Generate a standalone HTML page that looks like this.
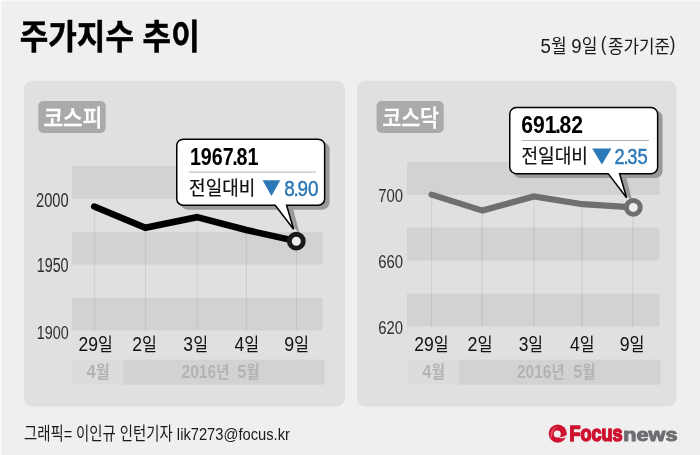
<!DOCTYPE html>
<html lang="ko">
<head>
<meta charset="utf-8">
<title>주가지수 추이</title>
<style>
html,body{margin:0;padding:0;background:#efefef;}
body{width:700px;height:455px;overflow:hidden;position:relative;}
svg{position:absolute;left:0;top:0;display:block;}
</style>
</head>
<body>
<svg width="700" height="455" viewBox="0 0 700 455">
  <rect x="0" y="0" width="700" height="455" fill="#efefef"/>
  <rect x="0" y="0" width="1.5" height="455" fill="#fafafa"/>
  <rect x="0" y="0" width="700" height="1" fill="#f8f8f8"/>

  <!-- LEFT PANEL -->
  <rect x="24" y="80.7" width="321.1" height="325.8" rx="8.5" ry="8.5" fill="#e0e0e0"/>
  <rect x="38.3" y="101.1" width="67.4" height="31.8" rx="5" ry="5" fill="#aaaaaa"/>
  <rect x="71.8" y="165.8" width="250.7" height="32.9" fill="#d2d2d2"/>
  <rect x="71.8" y="232.2" width="250.7" height="32.3" fill="#d2d2d2"/>
  <rect x="71.8" y="298" width="250.7" height="32.4" fill="#d2d2d2"/>
  <g stroke="#000" stroke-opacity="0.07" stroke-width="1.2">
    <line x1="94.6" y1="207" x2="94.6" y2="330.4"/>
    <line x1="145.5" y1="228" x2="145.5" y2="330.4"/>
    <line x1="197.2" y1="218" x2="197.4" y2="330.4"/>
    <line x1="246.4" y1="231" x2="246.4" y2="330.4"/>
    <line x1="296.5" y1="241" x2="296.5" y2="330.4"/>
  </g>
  <rect x="72" y="359.7" width="51.3" height="25" fill="#dcdcdc"/>
  <rect x="123.3" y="359.7" width="201.2" height="25" fill="#d2d2d2"/>
  <polyline points="94.2,206.6 145.4,227.75 196.9,217.2 246.3,230 296.3,241.2" fill="none" stroke="#000" stroke-width="6.5" stroke-linecap="round" stroke-linejoin="miter"/>
  <!-- tooltip left -->
  <g id="tipL">
    <path transform="translate(4.2 3.7)" d="M183.25,138.4 H318.15 a7.25,7.25 0 0 1 7.25,7.25 V198.75 a7.25,7.25 0 0 1 -7.25,7.25 H289.2 L295.4,230 L274.2,206 H183.25 a7.25,7.25 0 0 1 -7.25,-7.25 V145.65 a7.25,7.25 0 0 1 7.25,-7.25 Z" fill="#999999"/>
    <path d="M183.25,139.15 H318.15 a6.5,6.5 0 0 1 6.5,6.5 V198.75 a6.5,6.5 0 0 1 -6.5,6.5 H286.6 L293.6,229.3 L275.2,205.25 H183.25 a6.5,6.5 0 0 1 -6.5,-6.5 V145.65 a6.5,6.5 0 0 1 6.5,-6.5 Z" fill="#fff" stroke="#000" stroke-width="1.5" stroke-linejoin="miter"/>
    <line x1="188.6" y1="172.1" x2="316" y2="172.1" stroke="#b4b4b4" stroke-width="1"/>
    <polygon points="262.6,180.2 280.3,180.2 271.45,196.1" fill="#2b78b8"/>
  </g>
  <circle cx="296.3" cy="241.2" r="6.95" fill="#eeeeee" stroke="#1a1a1a" stroke-width="4.9"/>

  <!-- RIGHT PANEL -->
  <rect x="357" y="80.7" width="319.5" height="325.8" rx="8.5" ry="8.5" fill="#e0e0e0"/>
  <rect x="376.6" y="101.1" width="67.1" height="31.8" rx="5" ry="5" fill="#aaaaaa"/>
  <rect x="406.9" y="161.9" width="252.4" height="32.9" fill="#d2d2d2"/>
  <rect x="407" y="227.6" width="252.3" height="32.9" fill="#d2d2d2"/>
  <rect x="407" y="293.7" width="252.3" height="32.8" fill="#d2d2d2"/>
  <g stroke="#000" stroke-opacity="0.07" stroke-width="1.2">
    <line x1="431.5" y1="195" x2="431.5" y2="326.5"/>
    <line x1="482.3" y1="210" x2="482.3" y2="326.5"/>
    <line x1="534" y1="197" x2="534" y2="326.5"/>
    <line x1="582.3" y1="205" x2="582.3" y2="326.5"/>
    <line x1="632.8" y1="207" x2="632.8" y2="326.5"/>
  </g>
  <rect x="407.5" y="359.7" width="51.5" height="25" fill="#dcdcdc"/>
  <rect x="459" y="359.7" width="201.5" height="25" fill="#d2d2d2"/>
  <polyline points="431.6,194.6 482.4,210.6 533.8,196.4 582.6,204.2 633.3,207.4" fill="none" stroke="#6f6f6f" stroke-width="6.2" stroke-linecap="round" stroke-linejoin="miter"/>
  <!-- tooltip right -->
  <g id="tipR" transform="translate(333 -31.6)">
    <path transform="translate(4.2 3.7)" d="M183.25,138.4 H318.15 a7.25,7.25 0 0 1 7.25,7.25 V198.75 a7.25,7.25 0 0 1 -7.25,7.25 H289.2 L295.4,230 L274.2,206 H183.25 a7.25,7.25 0 0 1 -7.25,-7.25 V145.65 a7.25,7.25 0 0 1 7.25,-7.25 Z" fill="#999999"/>
    <path d="M183.25,139.15 H318.15 a6.5,6.5 0 0 1 6.5,6.5 V198.75 a6.5,6.5 0 0 1 -6.5,6.5 H286.6 L293.6,229.3 L275.2,205.25 H183.25 a6.5,6.5 0 0 1 -6.5,-6.5 V145.65 a6.5,6.5 0 0 1 6.5,-6.5 Z" fill="#fff" stroke="#000" stroke-width="1.5" stroke-linejoin="miter"/>
    <line x1="188.6" y1="172.1" x2="316" y2="172.1" stroke="#b4b4b4" stroke-width="1"/>
    <polygon points="259.2,180.2 278.5,180.2 268.85,196.1" fill="#2b78b8"/>
  </g>
  <circle cx="633.3" cy="207.4" r="6.95" fill="#eeeeee" stroke="#6f6f6f" stroke-width="4.9"/>

  <!-- texts -->
  <text transform="translate(19.77 49.24) scale(0.8964 1)" font-size="34.63" font-weight="700" fill="#000" stroke="#000" stroke-linejoin="round" stroke-width="0.50" style='font-family:"Liberation Sans","Noto Sans CJK KR",sans-serif'>주가지수 추이</text>
  <text transform="translate(540.55 53.07) scale(0.8987 1)" font-size="19.00" font-weight="400" fill="#1a1a1a"  style='font-family:"Liberation Sans","Noto Sans CJK KR",sans-serif'><tspan font-size="1.09em">5</tspan>월 <tspan font-size="1.09em">9</tspan>일</text>
  <text transform="translate(600.86 51.12) scale(0.8700 1)" font-size="19.89" font-weight="400" fill="#1a1a1a"  style='font-family:"Liberation Sans","Noto Sans CJK KR",sans-serif'>(</text>
  <text transform="translate(607.96 52.83) scale(0.9193 1)" font-size="18.35" font-weight="400" fill="#1a1a1a"  style='font-family:"Liberation Sans","Noto Sans CJK KR",sans-serif'>종가기준</text>
  <text transform="translate(669.83 51.12) scale(0.8507 1)" font-size="19.89" font-weight="400" fill="#1a1a1a"  style='font-family:"Liberation Sans","Noto Sans CJK KR",sans-serif'>)</text>
  <text transform="translate(43.45 126.12) scale(0.9231 1)" font-size="23.12" font-weight="500" fill="#fff" stroke="#fff" stroke-linejoin="round" stroke-width="0.35" style='font-family:"Liberation Sans","Noto Sans CJK KR",sans-serif'>코스피</text>
  <text transform="translate(382.17 125.96) scale(0.9093 1)" font-size="22.69" font-weight="500" fill="#fff" stroke="#fff" stroke-linejoin="round" stroke-width="0.34" style='font-family:"Liberation Sans","Noto Sans CJK KR",sans-serif'>코스닥</text>
  <text transform="translate(36.07 207.31) scale(0.7591 1)" font-size="19.30" font-weight="400" fill="#2e2e2e"  style='font-family:"Liberation Sans","Noto Sans CJK KR",sans-serif'>2000</text>
  <text transform="translate(36.65 272.21) scale(0.7399 1)" font-size="19.44" font-weight="400" fill="#2e2e2e"  style='font-family:"Liberation Sans","Noto Sans CJK KR",sans-serif'>1950</text>
  <text transform="translate(36.75 339.41) scale(0.7483 1)" font-size="19.15" font-weight="400" fill="#2e2e2e"  style='font-family:"Liberation Sans","Noto Sans CJK KR",sans-serif'>1900</text>
  <text transform="translate(78.50 350.52) scale(0.8760 1)" font-size="18.33" font-weight="400" fill="#111"  style='font-family:"Liberation Sans","Noto Sans CJK KR",sans-serif'><tspan font-size="1.09em">29</tspan>일</text>
  <text transform="translate(132.29 350.52) scale(0.8814 1)" font-size="18.33" font-weight="400" fill="#111"  style='font-family:"Liberation Sans","Noto Sans CJK KR",sans-serif'><tspan font-size="1.09em">2</tspan>일</text>
  <text transform="translate(183.36 350.52) scale(0.8790 1)" font-size="18.33" font-weight="400" fill="#111"  style='font-family:"Liberation Sans","Noto Sans CJK KR",sans-serif'><tspan font-size="1.09em">3</tspan>일</text>
  <text transform="translate(234.52 350.52) scale(0.8805 1)" font-size="18.33" font-weight="400" fill="#111"  style='font-family:"Liberation Sans","Noto Sans CJK KR",sans-serif'><tspan font-size="1.09em">4</tspan>일</text>
  <text transform="translate(284.18 350.52) scale(0.8933 1)" font-size="18.33" font-weight="400" fill="#111"  style='font-family:"Liberation Sans","Noto Sans CJK KR",sans-serif'><tspan font-size="1.09em">9</tspan>일</text>
  <text transform="translate(86.50 378.20) scale(0.9105 1)" font-size="16.67" font-weight="700" fill="#b3b3b3"  style='font-family:"Liberation Sans","Noto Sans CJK KR",sans-serif'><tspan font-size="1.09em">4</tspan>월</text>
  <text transform="translate(181.53 378.35) scale(0.8479 1)" font-size="16.85" font-weight="700" fill="#b3b3b3"  style='font-family:"Liberation Sans","Noto Sans CJK KR",sans-serif'><tspan font-size="1.09em">2016</tspan>년</text>
  <text transform="translate(237.46 378.20) scale(0.8746 1)" font-size="16.67" font-weight="700" fill="#b3b3b3"  style='font-family:"Liberation Sans","Noto Sans CJK KR",sans-serif'><tspan font-size="1.09em">5</tspan>월</text>
  <text transform="translate(189.92 164.75) scale(0.7949 1)" font-size="24.79" font-weight="700" fill="#000"  style='font-family:"Liberation Sans","Noto Sans CJK KR",sans-serif'>1967<tspan dx="-0.07em">.</tspan><tspan dx="-0.07em">81</tspan></text>
  <text transform="translate(189.10 194.65) scale(0.9237 1)" font-size="19.46" font-weight="400" fill="#111" stroke="#111" stroke-linejoin="round" stroke-width="0.23" style='font-family:"Liberation Sans","Noto Sans CJK KR",sans-serif'>전일대비</text>
  <text transform="translate(284.33 195.66) scale(0.8523 1)" font-size="22.19" font-weight="500" fill="#2b78b8" stroke="#2b78b8" stroke-linejoin="round" stroke-width="0.44" style='font-family:"Liberation Sans","Noto Sans CJK KR",sans-serif'>8<tspan dx="-0.07em">.</tspan><tspan dx="-0.07em">90</tspan></text>
  <text transform="translate(378.26 202.41) scale(0.7765 1)" font-size="19.15" font-weight="400" fill="#2e2e2e"  style='font-family:"Liberation Sans","Noto Sans CJK KR",sans-serif'>700</text>
  <text transform="translate(378.26 267.81) scale(0.7765 1)" font-size="19.15" font-weight="400" fill="#2e2e2e"  style='font-family:"Liberation Sans","Noto Sans CJK KR",sans-serif'>660</text>
  <text transform="translate(378.26 333.81) scale(0.7765 1)" font-size="19.15" font-weight="400" fill="#2e2e2e"  style='font-family:"Liberation Sans","Noto Sans CJK KR",sans-serif'>620</text>
  <text transform="translate(414.19 350.52) scale(0.8815 1)" font-size="18.33" font-weight="400" fill="#111"  style='font-family:"Liberation Sans","Noto Sans CJK KR",sans-serif'><tspan font-size="1.09em">29</tspan>일</text>
  <text transform="translate(467.48 350.52) scale(0.8972 1)" font-size="18.33" font-weight="400" fill="#111"  style='font-family:"Liberation Sans","Noto Sans CJK KR",sans-serif'><tspan font-size="1.09em">2</tspan>일</text>
  <text transform="translate(518.66 350.52) scale(0.8712 1)" font-size="18.33" font-weight="400" fill="#111"  style='font-family:"Liberation Sans","Noto Sans CJK KR",sans-serif'><tspan font-size="1.09em">3</tspan>일</text>
  <text transform="translate(570.02 350.52) scale(0.8766 1)" font-size="18.33" font-weight="400" fill="#111"  style='font-family:"Liberation Sans","Noto Sans CJK KR",sans-serif'><tspan font-size="1.09em">4</tspan>일</text>
  <text transform="translate(619.68 350.52) scale(0.8893 1)" font-size="18.33" font-weight="400" fill="#111"  style='font-family:"Liberation Sans","Noto Sans CJK KR",sans-serif'><tspan font-size="1.09em">9</tspan>일</text>
  <text transform="translate(422.20 378.20) scale(0.9021 1)" font-size="16.67" font-weight="700" fill="#b3b3b3"  style='font-family:"Liberation Sans","Noto Sans CJK KR",sans-serif'><tspan font-size="1.09em">4</tspan>월</text>
  <text transform="translate(516.93 378.35) scale(0.8442 1)" font-size="16.85" font-weight="700" fill="#b3b3b3"  style='font-family:"Liberation Sans","Noto Sans CJK KR",sans-serif'><tspan font-size="1.09em">2016</tspan>년</text>
  <text transform="translate(573.57 378.20) scale(0.8662 1)" font-size="16.67" font-weight="700" fill="#b3b3b3"  style='font-family:"Liberation Sans","Noto Sans CJK KR",sans-serif'><tspan font-size="1.09em">5</tspan>월</text>
  <text transform="translate(521.25 132.95) scale(0.8523 1)" font-size="24.79" font-weight="700" fill="#000"  style='font-family:"Liberation Sans","Noto Sans CJK KR",sans-serif'>691<tspan dx="-0.07em">.</tspan><tspan dx="-0.07em">82</tspan></text>
  <text transform="translate(521.40 163.15) scale(0.9295 1)" font-size="19.46" font-weight="400" fill="#111" stroke="#111" stroke-linejoin="round" stroke-width="0.23" style='font-family:"Liberation Sans","Noto Sans CJK KR",sans-serif'>전일대비</text>
  <text transform="translate(614.56 164.05) scale(0.8232 1)" font-size="22.33" font-weight="500" fill="#2b78b8" stroke="#2b78b8" stroke-linejoin="round" stroke-width="0.45" style='font-family:"Liberation Sans","Noto Sans CJK KR",sans-serif'>2<tspan dx="-0.07em">.</tspan><tspan dx="-0.07em">35</tspan></text>
  <text transform="translate(23.88 439.58) scale(0.8097 1)" font-size="17.80" font-weight="400" fill="#1a1a1a"  style='font-family:"Liberation Sans","Noto Sans CJK KR",sans-serif'>그래픽= 이인규 인턴기자</text>
  <text transform="translate(569.46 441.05) scale(0.8480 1)" font-size="21.32" font-weight="700" fill="#cf1230" stroke="#cf1230" stroke-linejoin="round" stroke-width="1.49" style='font-family:"Liberation Sans",sans-serif'>Focus</text>
  <text transform="translate(623.33 441.17) scale(1.1911 1)" font-size="18.20" font-weight="700" fill="#6d6e71" stroke="#6d6e71" stroke-linejoin="round" stroke-width="1.00" style='font-family:"Liberation Sans",sans-serif'>news</text>
  <text transform="translate(176.87 439.59) scale(0.8673 1)" font-size="16.98" font-weight="400" fill="#1a1a1a"  style='font-family:"Liberation Sans","Noto Sans CJK KR",sans-serif'>lik7273@focus.kr</text>

  <!-- logo -->
  <g>
    <circle cx="557.75" cy="433.6" r="9.1" fill="#cf1230"/>
    <circle cx="557.3" cy="434.1" r="3.5" fill="#efefef"/>
    <path d="M559.2,437.1 C562,437.3 564.6,436.6 567.2,434.6 L567.2,436.4 C564.6,438.2 562,438.6 559.5,438 Z" fill="#efefef"/>
    <path d="M550.8,438 C549.6,432 552.6,427 558.8,426 C554.4,427.8 552,431.6 552.2,437.6 Z" fill="#e8707f" opacity="0.7"/>
    </g>
</svg>
</body>
</html>
